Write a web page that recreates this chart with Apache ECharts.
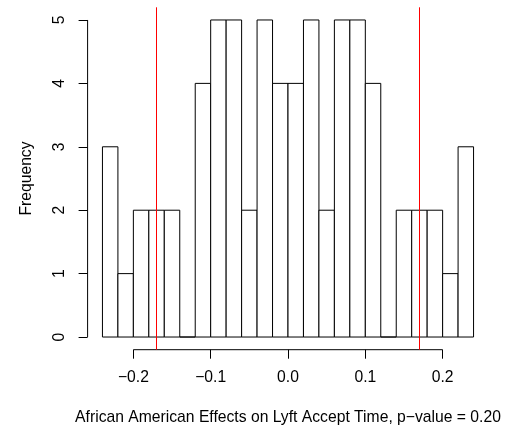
<!DOCTYPE html>
<html>
<head>
<meta charset="utf-8">
<script src="https://cdn.jsdelivr.net/npm/echarts@6/dist/echarts.min.js"></script>
<style>
  html, body { margin: 0; padding: 0; background: #fff; }
  #chart { width: 511px; height: 435px; }
</style>
</head>
<body>
<div id="chart"></div>
<script>
// Histogram bin edges and counts
const breaks = [-0.24, -0.22, -0.20, -0.18, -0.16, -0.14, -0.12, -0.10, -0.08, -0.06, -0.04, -0.02,
                0.00, 0.02, 0.04, 0.06, 0.08, 0.10, 0.12, 0.14, 0.16, 0.18, 0.20, 0.22, 0.24];
const counts = [3, 1, 2, 2, 2, 0, 4, 5, 5, 2, 5, 4, 4, 5, 2, 5, 5, 4, 0, 2, 2, 2, 1, 3];

// Critical values shown as red vertical lines
const cutoffs = [-0.173, 0.173];

// Axis tick positions
const xTicks = [-0.2, -0.1, 0.0, 0.1, 0.2];
const yTicks = [0, 1, 2, 3, 4, 5];

const xTitle = 'African American Effects on Lyft Accept Time, p\u2212value = 0.20';
const yTitle = 'Frequency';

// Plot range padded by 4% on each side
const xPad = (breaks[breaks.length - 1] - breaks[0]) * 0.04;
const xMin = breaks[0] - xPad, xMax = breaks[breaks.length - 1] + xPad;
const yPad = (yTicks[yTicks.length - 1] - yTicks[0]) * 0.04;
const yMin = yTicks[0] - yPad, yMax = yTicks[yTicks.length - 1] + yPad;

const binData = counts.map((c, i) => [breaks[i], breaks[i + 1], c]);

const FONT = 'Liberation Sans, Arial, Helvetica, sans-serif';
const FS = 15.7;

const chart = echarts.init(document.getElementById('chart'), null, { renderer: 'canvas' });

chart.setOption({
  animation: false,
  backgroundColor: '#ffffff',
  grid: { left: 87.6, right: 22.6, top: 7.3, bottom: 85.3, containLabel: false },
  xAxis: {
    type: 'value',
    min: xMin,
    max: xMax,
    splitLine: { show: false },
    axisLine: { show: false, onZero: false },
    axisTick: { show: true, customValues: xTicks, length: 9, lineStyle: { color: '#000', width: 1 } },
    axisLabel: {
      customValues: xTicks,
      color: '#000', fontFamily: FONT, fontSize: FS, margin: 20,
      formatter: v => v.toFixed(1).replace('-', '\u2212')
    },
    name: xTitle,
    nameLocation: 'middle',
    nameGap: 60,
    nameTextStyle: { color: '#000', fontFamily: FONT, fontSize: FS }
  },
  yAxis: {
    type: 'value',
    min: yMin,
    max: yMax,
    splitLine: { show: false },
    axisLine: { show: false, onZero: false },
    axisTick: { show: true, customValues: yTicks, length: 9, lineStyle: { color: '#000', width: 1 } },
    axisLabel: {
      customValues: yTicks,
      rotate: 90,
      color: '#000', fontFamily: FONT, fontSize: FS, margin: 20
    },
    name: yTitle,
    nameLocation: 'middle',
    nameGap: 53,
    nameTextStyle: { color: '#000', fontFamily: FONT, fontSize: FS }
  },
  series: [
    {
      name: 'bins',
      type: 'custom',
      data: binData,
      renderItem: (params, api) => {
        const p0 = api.coord([api.value(0), api.value(2)]);
        const p1 = api.coord([api.value(1), 0]);
        return {
          type: 'rect',
          shape: { x: p0[0], y: p0[1], width: p1[0] - p0[0], height: p1[1] - p0[1] },
          style: { fill: '#ffffff', stroke: '#000000', lineWidth: 1 }
        };
      },
      markLine: {
        silent: true,
        symbol: ['none', 'none'],
        label: { show: false },
        lineStyle: { color: '#ff0000', width: 1, type: 'solid' },
        data: cutoffs.map(v => ({ xAxis: v }))
      },
      z: 2
    },
    {
      // R-style axis lines spanning only the first to last tick
      name: 'axes',
      type: 'custom',
      clip: false,
      silent: true,
      data: [0],
      renderItem: (params, api) => {
        const xa = api.coord([xTicks[0], yMin]);
        const xb = api.coord([xTicks[xTicks.length - 1], yMin]);
        const ya = api.coord([xMin, yTicks[0]]);
        const yb = api.coord([xMin, yTicks[yTicks.length - 1]]);
        return {
          type: 'group',
          children: [
            { type: 'line', shape: { x1: xa[0], y1: xa[1], x2: xb[0], y2: xb[1] }, style: { stroke: '#000', lineWidth: 1 } },
            { type: 'line', shape: { x1: ya[0], y1: ya[1], x2: yb[0], y2: yb[1] }, style: { stroke: '#000', lineWidth: 1 } }
          ]
        };
      },
      z: 3
    }
  ]
});
</script>
</body>
</html>
